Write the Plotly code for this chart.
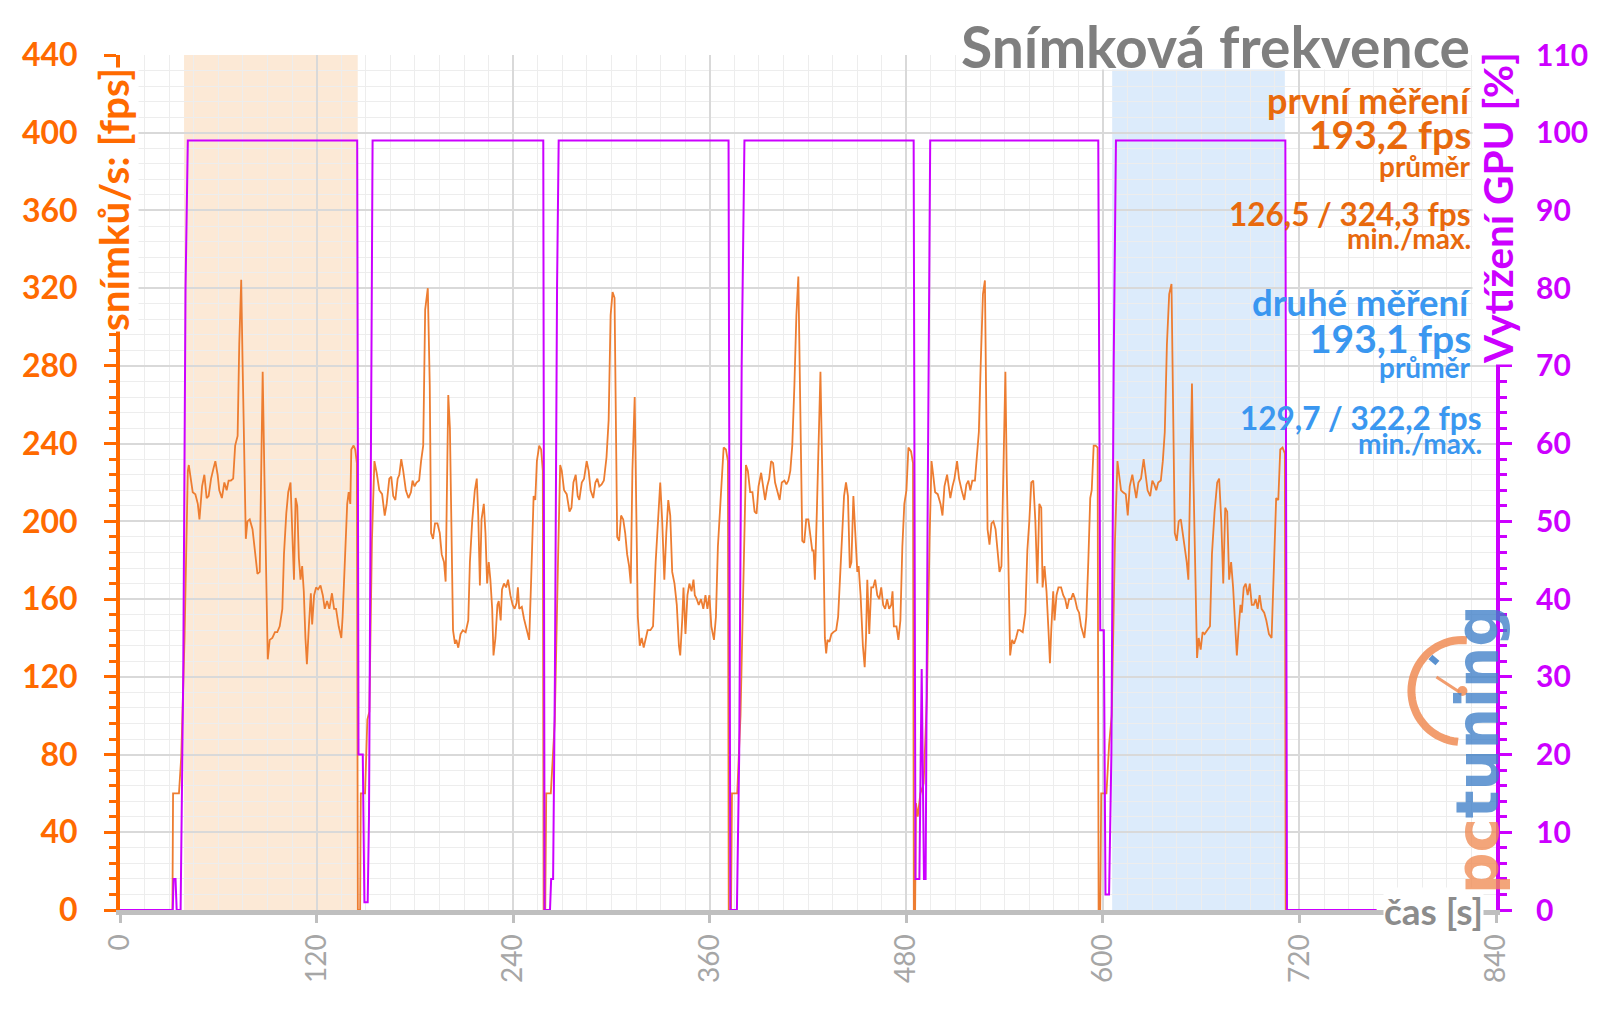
import plotly.graph_objects as go
import numpy as np

# ---------------- data ----------------
# time [s] at which each benchmark run starts (first sample of the run)
cycle_start = [42.0, 155.3, 268.7, 382.1, 495.4, 608.9]

c1_off = [0, 0.8, 2.4, 4.0, 5.5, 6.5, 8.1, 9.5, 10.9, 12.1,
          13.6, 15.0, 16.2, 17.6, 18.6, 20.2, 21.7, 23.1, 24.3, 25.7,
          27.1, 28.3, 29.8, 30.8, 32.0, 32.8, 33.8, 34.8, 35.8, 37.2,
          38.9, 40.5, 41.9, 43.3, 44.5, 45.1, 46.1, 47.4, 48.2, 49.4,
          51.0, 52.6, 54.0, 55.5, 57.1, 58.1, 59.5, 60.7, 62.1, 63.1,
          64.2, 65.2, 66.2, 67.2, 68.2, 69.2, 70.2, 71.2, 72.1, 73.3,
          74.5, 75.3, 76.5, 77.7, 78.9, 80.4, 81.8, 83.0, 84.4, 85.8,
          87.4, 88.7, 89.9, 91.5, 93.1, 93.9, 95.5, 96.7, 97.6, 98.6,
          99.2, 100.6, 101.6, 102.6]
c1_fps = [229, 224, 215, 214, 209, 201, 218, 224, 212, 213,
          222, 227, 231, 224, 216, 212, 220, 216, 221, 221,
          222, 239, 244, 291, 324.3, 283, 226, 191, 200, 201,
          196, 183, 173, 174, 248, 277, 226, 162, 129, 139,
          140, 143, 143, 146, 155, 183, 204, 215, 220, 196,
          170, 212, 208, 181, 170, 177, 164, 140, 126.5, 146,
          163, 147, 162, 166, 165, 167, 162, 155, 159, 155,
          163, 155, 155, 146, 140, 151, 187, 209, 215, 209,
          237, 239, 237, 230]

c2_off = [0, 1.4, 3.0, 4.7, 6.3, 7.5, 9.1, 10.3, 11.5, 12.8,
          14.2, 15.2, 16.4, 17.6, 19.2, 20.8, 22.3, 23.3, 24.5, 25.7,
          27.3, 28.5, 29.8, 31.0, 32.6, 33.8, 34.6, 35.8, 37.0, 38.5,
          39.9, 41.1, 42.5, 43.5, 44.3, 45.1, 46.1, 47.2, 48.0, 49.2,
          50.0, 51.2, 52.6, 54.0, 55.7, 57.3, 58.3, 59.7, 61.3, 62.5,
          63.4, 64.4, 65.4, 66.8, 67.8, 68.8, 69.8, 70.8, 71.9, 72.7,
          73.9, 75.1, 75.9, 77.1, 77.9, 79.1, 80.4, 81.6, 83.0, 84.4,
          85.6, 86.8, 87.6, 88.4, 90.0, 91.3, 93.1, 94.5, 95.7, 97.2,
          98.2, 99.2, 100.6, 101.8, 102.8]
c2_fps = [231, 225, 216, 214, 203, 209, 222, 223, 213, 211,
          222, 224, 232, 226, 216, 212, 215, 221, 218, 220,
          221, 231, 239, 309, 320, 270, 194, 191, 199, 199,
          194, 183, 179, 169, 226, 265, 248, 183, 144, 137,
          139, 135, 142, 144, 143, 149, 179, 200, 216, 222,
          203, 167, 201, 209, 194, 168, 179, 170, 155, 131,
          140, 157, 159, 149, 165, 168, 166, 170, 162, 157,
          155, 158, 166, 155, 156, 150, 144, 139, 170, 213,
          211, 231, 239, 237, 226]

c3_off = [0, 1.0, 2.4, 4.0, 5.7, 6.9, 8.1, 9.5, 10.7, 11.7,
          13.2, 14.6, 16.2, 17.4, 18.6, 20.2, 21.5, 22.7, 23.9, 25.3,
          26.7, 28.3, 29.6, 30.8, 32.0, 33.2, 34.0, 34.8, 36.0, 37.2,
          38.5, 39.7, 40.9, 42.1, 43.1, 44.1, 45.5, 46.5, 47.4, 48.6,
          49.8, 51.0, 52.2, 53.4, 55.1, 56.7, 58.3, 59.5, 61.1, 62.3,
          63.6, 64.8, 66.0, 67.2, 68.4, 69.8, 71.2, 72.5, 73.3, 74.5,
          75.3, 76.5, 77.7, 78.9, 80.2, 81.4, 82.2, 83.4, 84.6, 86.0,
          87.4, 88.7, 89.9, 91.1, 92.3, 93.9, 95.1, 96.3, 97.6, 98.8,
          99.8, 101.2, 102.4]
c3_fps = [229, 226, 216, 214, 205, 207, 220, 224, 213, 211,
          220, 222, 231, 226, 216, 212, 220, 222, 218, 219,
          221, 233, 252, 306, 318, 315, 248, 192, 190, 203,
          201, 194, 183, 177, 168, 226, 264, 205, 151, 136,
          140, 135, 140, 144, 144, 146, 179, 196, 220, 200,
          170, 194, 211, 203, 174, 168, 157, 136, 131, 149,
          166, 142, 162, 168, 164, 170, 162, 160, 157, 160,
          155, 162, 155, 162, 146, 139, 151, 187, 205, 222,
          238, 237, 231]

c4_off = [0, 1.2, 2.6, 4.0, 5.3, 6.5, 7.7, 9.3, 10.5, 11.7,
          13.0, 14.2, 15.4, 16.6, 17.8, 19.0, 20.6, 21.9, 23.5, 24.7,
          25.9, 27.1, 28.3, 29.6, 30.8, 32.0, 33.2, 34.4, 35.6, 36.8,
          38.1, 39.3, 40.5, 41.3, 42.1, 43.3, 44.5, 45.5, 46.6, 47.4,
          48.2, 49.0, 49.8, 51.0, 52.2, 53.4, 55.1, 56.3, 57.5, 58.7,
          59.9, 61.1, 62.3, 63.4, 64.4, 65.6, 66.8, 68.0, 68.8, 70.0,
          71.4, 72.5, 73.3, 74.1, 75.3, 76.5, 77.7, 78.9, 80.2, 81.4,
          82.6, 83.8, 85.0, 86.2, 87.4, 88.7, 89.5, 90.3, 91.9, 93.1,
          94.3, 95.5, 96.7, 98.0, 99.2, 100.8, 102.0]
c4_fps = [229, 226, 215, 215, 205, 204, 218, 225, 218, 211,
          218, 222, 231, 230, 220, 216, 211, 220, 221, 219,
          221, 226, 239, 270, 306, 326, 252, 190, 189, 201,
          201, 194, 185, 185, 170, 205, 252, 277, 226, 172,
          140, 132, 139, 138, 142, 143, 144, 151, 170, 196,
          213, 220, 213, 176, 179, 213, 194, 174, 177, 162,
          136, 125, 140, 170, 142, 166, 166, 170, 162, 160,
          166, 157, 155, 160, 155, 157, 164, 146, 146, 139,
          149, 187, 209, 216, 238, 236, 230]

c5_off = [0, 1.0, 2.2, 3.8, 5.5, 6.7, 7.9, 9.5, 10.7, 11.5,
          12.8, 14.0, 15.6, 16.8, 18.4, 20.0, 21.3, 22.5, 23.7, 24.9,
          26.5, 27.7, 28.9, 30.0, 31.4, 32.6, 33.4, 34.2, 35.4, 36.6,
          37.8, 39.1, 40.3, 41.5, 42.7, 43.9, 45.1, 45.9, 47.0, 48.0,
          49.2, 50.4, 51.6, 52.8, 54.0, 55.7, 57.3, 58.5, 59.7, 60.9,
          62.1, 63.4, 64.6, 65.8, 67.0, 67.8, 69.0, 70.2, 71.4, 72.3,
          73.1, 74.3, 75.1, 76.3, 77.5, 79.1, 80.4, 81.6, 82.8, 84.0,
          85.2, 86.4, 87.6, 88.9, 90.1, 91.3, 93.3, 94.5, 95.7, 96.9,
          97.8, 99.0, 100.2, 101.4]
c5_fps = [231, 224, 215, 214, 209, 203, 218, 224, 216, 212,
          218, 222, 231, 222, 216, 211, 219, 221, 216, 221,
          221, 235, 246, 280, 317, 324, 258, 196, 188, 199,
          200, 196, 185, 174, 177, 226, 277, 226, 172, 131,
          139, 137, 140, 144, 144, 143, 153, 185, 200, 220,
          221, 200, 168, 209, 207, 166, 177, 164, 144, 127,
          144, 164, 149, 162, 166, 166, 162, 160, 155, 160,
          160, 163, 160, 155, 153, 146, 140, 151, 179, 212,
          216, 239, 239, 238]

c6_off = [0, 1.0, 2.2, 3.4, 5.1, 6.3, 7.5, 9.1, 10.3, 11.5,
          12.8, 14.4, 16.0, 17.2, 18.4, 20.0, 21.3, 22.5, 23.7, 24.9,
          26.5, 27.7, 28.9, 30.2, 31.6, 33.0, 33.8, 35.0, 36.2, 37.4,
          38.7, 39.9, 41.1, 42.3, 43.3, 44.3, 45.5, 46.3, 47.6, 48.6,
          49.6, 50.8, 52.0, 53.2, 54.8, 56.5, 57.7, 59.3, 60.9, 62.1,
          63.4, 64.6, 65.8, 67.0, 68.2, 69.4, 70.6, 71.9, 72.9, 73.9,
          75.1, 75.9, 77.1, 78.3, 79.5, 80.8, 82.0, 83.2, 84.4, 85.6,
          86.8, 88.0, 89.6, 90.9, 92.5, 94.1, 95.3, 96.9, 98.2, 99.4,
          100.8, 102.2]
c6_fps = [231, 224, 216, 215, 214, 203, 218, 224, 218, 212,
          220, 222, 232, 224, 216, 213, 221, 219, 216, 220,
          221, 231, 246, 291, 317, 322.2, 270, 194, 190, 200,
          201, 194, 185, 179, 170, 222, 271, 226, 170, 129.7,
          140, 134, 143, 142, 144, 146, 183, 205, 220, 222,
          200, 168, 207, 205, 170, 179, 166, 149, 131, 144,
          157, 153, 166, 168, 162, 168, 157, 157, 160, 155,
          162, 155, 153, 149, 142, 140, 170, 212, 211, 237,
          238, 235]

# fps samples outside the runs (idle / loading)
pre_t = [0, 32.0, 32.4, 36.0, 37.4, 38.4, 39.4, 40.4, 41.4]
pre_fps = [0, 0, 60, 60, 79, 107, 140, 183, 226]
gap1_t = [145.2, 146.6, 147.0, 149.6, 151.0, 152.2, 153.8]
gap1_fps = [0, 0, 60, 60, 98, 102, 190]
gap2_t = [258.6, 259.6, 260.2, 263.0, 265.4, 267.4]
gap2_fps = [0, 0, 60, 60, 97, 180]
gap3_t = [371.6, 373.0, 373.6, 376.8, 378.8, 380.8]
gap3_fps = [0, 0, 60, 60, 100, 190]
gap4_t = [484.6, 485.4, 485.9, 487.0, 488.6, 490.6, 492.6, 494.2]
gap4_fps = [0, 0, 55, 48, 60, 65, 110, 190]
gap5_t = [597.4, 598.4, 599.0, 602.2, 603.8, 605.4, 607.4]
gap5_fps = [0, 0, 60, 60, 85, 100, 190]
post_t = [711.6, 767.0]
post_fps = [0, 0]

# GPU load [%]
gpu_t = [0, 32.2, 32.7, 33.9, 34.6, 37.0, 38.6, 40.0, 41.4,
         144.8, 145.6, 148.2, 149.2, 151.2, 152.0, 153.0, 154.2,
         258.4, 259.2, 262.5, 263.2, 264.4, 265.5, 266.8, 267.8,
         371.5, 372.6, 376.6, 378.0, 379.5, 381.2,
         484.5, 485.6, 488.0, 489.4, 490.8, 491.8, 493.0, 494.6,
         597.2, 598.4, 600.6, 601.6, 603.8, 605.2, 606.6, 608.0,
         711.4, 712.4, 767.0]
gpu_v = [0, 0, 4, 4, 0, 0, 30, 80, 99,
         99, 20, 20, 1, 1, 12, 55, 99,
         99, 0, 0, 4, 4, 30, 80, 99,
         99, 0, 0, 20, 70, 99,
         99, 4, 4, 31, 4, 4, 50, 99,
         99, 36, 36, 2, 2, 20, 70, 99,
         99, 0, 0]

# measured windows (first / second measurement) [s]
first_window = [39.1, 145.1]
second_window = [605.7, 711.1]

x_ticks = [0, 120, 240, 360, 480, 600, 720, 840]

# ---------------- assemble series ----------------
cyc_off = [c1_off, c2_off, c3_off, c4_off, c5_off, c6_off]
cyc_fps = [c1_fps, c2_fps, c3_fps, c4_fps, c5_fps, c6_fps]
gaps_t = [gap1_t, gap2_t, gap3_t, gap4_t, gap5_t, post_t]
gaps_fps = [gap1_fps, gap2_fps, gap3_fps, gap4_fps, gap5_fps, post_fps]

fps_t = list(pre_t)
fps_v = list(pre_fps)
for s, off, vals, gt, gv in zip(cycle_start, cyc_off, cyc_fps, gaps_t, gaps_fps):
    fps_t += [s + o for o in off]
    fps_v += list(vals)
    fps_t += list(gt)
    fps_v += list(gv)

# ---------------- styling ----------------
W, H = 1600, 1009
ML, MR, MT, MB = 120, 97, 55, 99
PW, PH = W - ML - MR, H - MT - MB

ORANGE_AX = '#FF6A00'
ORANGE_TXT = '#E8690D'
ORANGE_LINE = '#ED7D31'
PURPLE = '#CC00FF'
BLUE_TXT = '#3A97F0'
GRAY_TXT = '#7F7F7F'
FONT = 'Lato'


def px(xp):
    return (xp - ML) / PW


def py(yp):
    return (H - MB - yp) / PH


fig = go.Figure()
fig.add_trace(go.Scatter(x=fps_t, y=fps_v, mode='lines', yaxis='y',
                         line=dict(color=ORANGE_LINE, width=1.8), hoverinfo='skip'))
fig.add_trace(go.Scatter(x=gpu_t, y=gpu_v, mode='lines', yaxis='y2',
                         line=dict(color=PURPLE, width=2), hoverinfo='skip'))

shapes = [
    dict(type='rect', xref='x', yref='paper', x0=first_window[0], x1=first_window[1], y0=0, y1=1,
         fillcolor='rgba(249,211,173,0.5)', line=dict(width=0), layer='below'),
    dict(type='rect', xref='x', yref='paper', x0=second_window[0], x1=second_window[1], y0=0, y1=1,
         fillcolor='rgba(185,215,247,0.5)', line=dict(width=0), layer='below'),
]

# logo gauge (pixel-sized shapes anchored near the right axis)
ax_anchor, ay_anchor = 819.5, 112.7
theta = np.radians(np.arange(85, 266, 5))
arc = 'M ' + ' L '.join(f'{51*np.cos(t):.1f},{51*np.sin(t):.1f}' for t in theta)
common = dict(xref='x', yref='y', xsizemode='pixel', ysizemode='pixel',
              xanchor=ax_anchor, yanchor=ay_anchor, layer='above')
shapes += [
    dict(type='path', path=arc, line=dict(color='#F08C55', width=8), opacity=0.85, **common),
    dict(type='path', path='M -26,14 L -3,-1', line=dict(color='#F08C55', width=3), opacity=0.85, **common),
    dict(type='circle', x0=-5, x1=5, y0=-5, y1=5, fillcolor='#F08C55', line=dict(width=0), opacity=0.85, **common),
    dict(type='path', path='M -32,34 L -25,28', line=dict(color='#3F80C8', width=6), opacity=0.85, **common),
]


def ann(text, x, y, size, color, xanchor='right', yanchor='middle', bg=None, angle=0,
        weight='bold', family=FONT, opacity=1, height=None):
    d = dict(text=text, xref='paper', yref='paper', x=px(x), y=py(y), xanchor=xanchor,
             yanchor=yanchor, showarrow=False, textangle=angle, opacity=opacity,
             font=dict(family=family, size=size, color=color, weight=weight), borderpad=0)
    if bg:
        d['bgcolor'] = bg
    if height:
        d['height'] = height
    return d


annotations = [
    ann('Snímková frekvence', 1478, 46, 57, GRAY_TXT, bg='white', height=46),
    ann('první měření', 1479, 100, 36, ORANGE_TXT),
    ann('193,2 fps', 1479, 134, 39, ORANGE_TXT),
    ann('průměr', 1479, 166, 28, ORANGE_TXT),
    ann('126,5 / 324,3 fps', 1479, 214, 31.5, ORANGE_TXT),
    ann('min./max.', 1479, 238, 28, ORANGE_TXT),
    ann('druhé měření', 1479, 302, 36.5, BLUE_TXT),
    ann('193,1 fps', 1479, 338, 39, BLUE_TXT),
    ann('průměr', 1479, 367, 28, BLUE_TXT),
    ann('129,7 / 322,2 fps', 1490, 418, 31.5, BLUE_TXT),
    ann('min./max.', 1490, 443, 28, BLUE_TXT),
    ann('čas [s]', 1440, 910, 37, '#8C8C8C', xanchor='center', bg='white'),
    ann('snímků/s: [fps]', 113, 200, 40.5, ORANGE_AX, xanchor='center', bg='white', angle=-90),
    ann('Vytížení GPU [%]', 1504, 208, 40.5, PURPLE, xanchor='center', bg='white', angle=-90),
    ann("<span style='color:#F08C55'>pc</span><span style='color:#3F80C8'>tuning</span>",
        1485, 750, 58, '#3F80C8', xanchor='center', angle=-90, family='DejaVu Sans',
        opacity=0.78),
]

fig.update_layout(
    width=W, height=H,
    margin=dict(l=ML, r=MR, t=MT, b=MB, pad=0),
    paper_bgcolor='white', plot_bgcolor='white',
    showlegend=False,
    font=dict(family=FONT),
    shapes=shapes,
    annotations=annotations,
    xaxis=dict(range=[0, 840], tickvals=x_ticks, ticktext=[str(v) for v in x_ticks],
               tickangle=-90, tickfont=dict(family=FONT, size=28, color='#A6A6A6'),
               showgrid=True, gridcolor='#D9D9D9', gridwidth=1.5,
               minor=dict(dtick=15, tick0=0, showgrid=True, gridcolor='#EDEDED', gridwidth=1),
               showline=True, linecolor='#BFBFBF', linewidth=5,
               ticks='outside', ticklen=8, tickwidth=3, tickcolor='#BFBFBF',
               zeroline=False, layer='below traces', fixedrange=True),
    yaxis=dict(range=[0, 440], dtick=40, tick0=0,
               tickfont=dict(family=FONT, size=32, color=ORANGE_AX, weight='bold'),
               showgrid=True, gridcolor='#D9D9D9', gridwidth=1.5,
               minor=dict(dtick=8, tick0=0, showgrid=True, gridcolor='#EDEDED', gridwidth=1,
                          ticks='outside', ticklen=7, tickwidth=3, tickcolor=ORANGE_AX),
               showline=True, linecolor=ORANGE_AX, linewidth=4,
               ticks='outside', ticklen=12, tickwidth=3, tickcolor=ORANGE_AX,
               ticklabelstandoff=20, zeroline=False, fixedrange=True),
    yaxis2=dict(range=[0, 110], dtick=10, tick0=0, overlaying='y', side='right',
                tickfont=dict(family=FONT, size=30, color=PURPLE, weight='bold'),
                showgrid=False,
                minor=dict(dtick=2, tick0=0, ticks='outside', ticklen=7, tickwidth=3, tickcolor=PURPLE),
                showline=True, linecolor=PURPLE, linewidth=4,
                ticks='outside', ticklen=12, tickwidth=3, tickcolor=PURPLE,
                ticklabelstandoff=18, zeroline=False, fixedrange=True),
)

fig.write_html("out.html", config={'displayModeBar': False},
               post_script="document.body.style.margin='0px';document.body.style.overflow='hidden';")
